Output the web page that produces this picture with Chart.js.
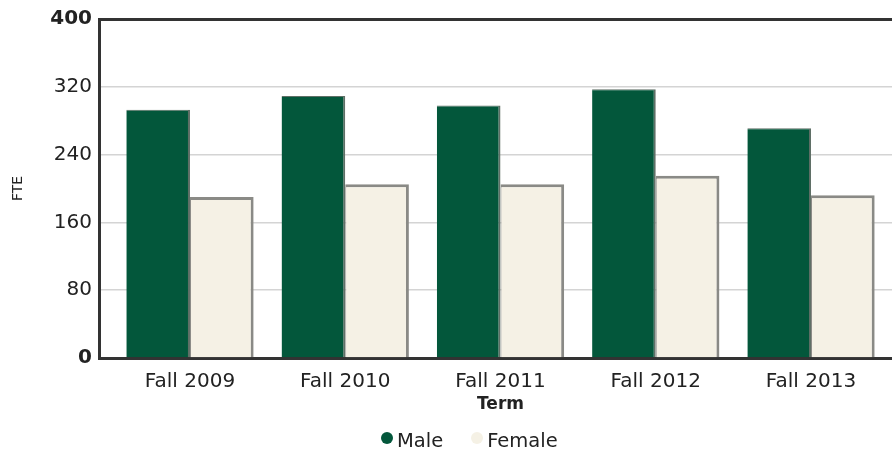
<!DOCTYPE html>
<html>
<head>
<meta charset="utf-8">
<script src="https://cdn.jsdelivr.net/npm/chart.js@4/dist/chart.umd.min.js"></script>
<style>
  html, body { margin: 0; padding: 0; background: #fff; overflow: hidden; }
  #wrap { position: relative; width: 910px; height: 454px; }
  #legend {
    position: absolute; top: 429px; left: 381px;
    display: flex; align-items: center;
    font: 19.5px "DejaVu Sans", Verdana, sans-serif; color: #222; line-height: 24px;
  }
  #legend span.item { display: flex; align-items: center; margin-right: 28px; }
  #legend span.dot { width: 12px; height: 12px; border-radius: 50%; margin-right: 4px; margin-top: -6px; }
</style>
</head>
<body>
<div id="wrap">
  <canvas id="chart" width="910" height="454"></canvas>
  <div id="legend"></div>
</div>
<script>
  var terms = ["Fall 2009", "Fall 2010", "Fall 2011", "Fall 2012", "Fall 2013"];
  var maleFTE = [293, 309, 298, 317, 271];
  var femaleFTE = [190, 205, 205, 215, 192];
  var yTicks = [0, 80, 160, 240, 320, 400];

  var GREEN = "#03573b";
  var CREAM = "#f5f1e5";
  var FONT = '"DejaVu Sans", Verdana, sans-serif';

  function points(values) {
    return values.map(function (v, i) {
      return { x: i, y: v };
    });
  }

  var datasets = [
    {
      label: "Male",
      data: points(maleFTE),
      backgroundColor: GREEN,
      borderColor: "#5f6f66",
      borderWidth: { top: 1, right: 2, left: 0, bottom: 0 },
      borderSkipped: "bottom",
    },
    {
      label: "Female",
      data: points(femaleFTE),
      backgroundColor: CREAM,
      borderColor: "#8a8a86",
      borderWidth: { top: 3, right: 3, left: 1, bottom: 0 },
      borderSkipped: "bottom",
    },
  ];

  new Chart(document.getElementById("chart"), {
    type: "bar",
    data: { datasets: datasets },
    options: {
      responsive: false,
      animation: false,
      categoryPercentage: 0.82,
      barPercentage: 1,
      layout: { padding: { top: 16, right: 8, bottom: 39, left: 0 } },
      plugins: {
        legend: { display: false },
        tooltip: { enabled: false },
      },
      scales: {
        x: {
          type: "linear",
          offset: false,
          min: -0.586,
          max: terms.length - 1 + 0.586,
          afterBuildTicks: function (scale) {
            scale.ticks = terms.map(function (t, i) {
              return { value: i };
            });
          },
          afterFit: function (scale) {
            scale.height = 57;
          },
          ticks: {
            autoSkip: false,
            maxRotation: 0,
            padding: 12,
            color: "#222",
            font: { family: FONT, size: 20 },
            callback: function (v) {
              return terms[v] || "";
            },
          },
          grid: { display: false, drawTicks: false },
          border: { color: "#333", width: 3 },
          title: {
            display: true,
            text: "Term",
            color: "#222",
            font: { family: FONT, size: 17, weight: "bold" },
            padding: { top: 0, bottom: 0 },
          },
        },
        y: {
          min: yTicks[0],
          max: yTicks[yTicks.length - 1],
          afterFit: function (scale) {
            scale.width = 99;
          },
          afterBuildTicks: function (scale) {
            scale.ticks = yTicks.map(function (v) {
              return { value: v };
            });
          },
          ticks: {
            padding: 7,
            color: "#222",
            font: function (ctx) {
              var v = ctx.tick ? ctx.tick.value : null;
              var bold = v === 0 || v === 400;
              return { family: FONT, size: 20, weight: bold ? "bold" : "normal" };
            },
          },
          grid: {
            drawTicks: false,
            color: function (ctx) {
              return ctx.tick && ctx.tick.value === 400 ? "#333" : "#d4d4d4";
            },
            lineWidth: function (ctx) {
              return ctx.tick && ctx.tick.value === 400 ? 3 : 1.5;
            },
          },
          border: { color: "#333", width: 3 },
          title: {
            display: true,
            text: "FTE",
            color: "#222",
            font: { family: FONT, size: 14 },
            padding: { top: 10, bottom: 0 },
          },
        },
      },
    },
  });

  var legend = document.getElementById("legend");
  datasets.forEach(function (ds) {
    var item = document.createElement("span");
    item.className = "item";
    var dot = document.createElement("span");
    dot.className = "dot";
    dot.style.background = ds.backgroundColor;
    item.appendChild(dot);
    item.appendChild(document.createTextNode(ds.label));
    legend.appendChild(item);
  });
</script>
</body>
</html>
